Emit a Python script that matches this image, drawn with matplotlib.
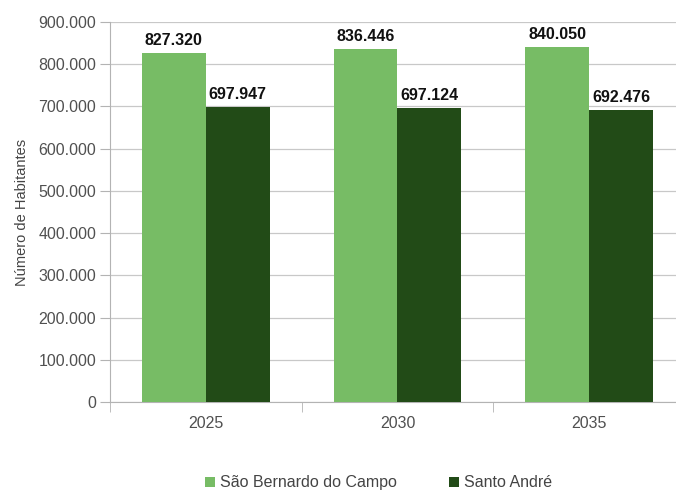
"""
Projeção populacional: São Bernardo do Campo x Santo André.
"""
import matplotlib
matplotlib.use('Agg')
import matplotlib.pyplot as plt
import numpy as np

plt.rcParams['font.family'] = ['Liberation Sans', 'DejaVu Sans']

anos = ['2025', '2030', '2035']
sao_bernardo = [827320, 836446, 840050]
santo_andre = [697947, 697124, 692476]
series_nomes = ['São Bernardo do Campo', 'Santo André']
yticks = [0, 100000, 200000, 300000, 400000, 500000, 600000, 700000, 800000, 900000]


def fmt(v):
    # separador de milhar com ponto
    return '{:,}'.format(int(v)).replace(',', '.')


def main():
    fig = plt.figure(figsize=(6.76, 4.94), dpi=100)
    ax = fig.add_axes([110 / 676, 92 / 494, 575 / 676, 380 / 494])

    x = np.arange(len(anos))
    w = 1 / 3
    cores = ['#77bc65', '#224b17']

    b1 = ax.bar(x - w / 2, sao_bernardo, w, color=cores[0], label=series_nomes[0], zorder=3)
    b2 = ax.bar(x + w / 2, santo_andre, w, color=cores[1], label=series_nomes[1], zorder=3)

    for bars in (b1, b2):
        for r in bars:
            ax.text(r.get_x() + r.get_width() / 2, r.get_height() + 12000, fmt(r.get_height()),
                    ha='center', va='bottom', fontsize=11.5, fontweight='bold', color='#111111')

    ax.set_xlim(-0.5, len(anos) - 0.5)
    ax.set_ylim(0, 900000)
    ax.set_yticks(yticks)
    ax.set_yticklabels([fmt(v) for v in yticks])
    ax.set_xticks(x)
    ax.set_xticklabels(anos)
    ax.set_xticks(np.arange(len(anos) + 1) - 0.5, minor=True)

    ax.grid(axis='y', color='#c8c8c8', linewidth=0.9, zorder=0)
    for s in ('top', 'right'):
        ax.spines[s].set_visible(False)
    ax.spines['left'].set_color('#b3b3b3')
    ax.spines['bottom'].set_color('#b3b3b3')

    ax.tick_params(axis='y', length=7, color='#b3b3b3', labelsize=11.5, labelcolor='#505050', pad=3)
    ax.tick_params(axis='x', which='major', length=0, labelsize=11.5, labelcolor='#505050', pad=10)
    ax.tick_params(axis='x', which='minor', length=7, color='#b3b3b3')

    ax.set_ylabel('Número de Habitantes', fontsize=10.5, color='#444444', labelpad=7)

    fig.legend(loc='lower center', bbox_to_anchor=(0.56, -0.022), ncol=2, frameon=False,
               fontsize=11.5, handlelength=0.6, handleheight=0.6, handletextpad=0.3,
               columnspacing=3.3, labelcolor='#444444')

    fig.savefig('out.png', dpi=100)
    plt.close(fig)


if __name__ == '__main__':
    main()
